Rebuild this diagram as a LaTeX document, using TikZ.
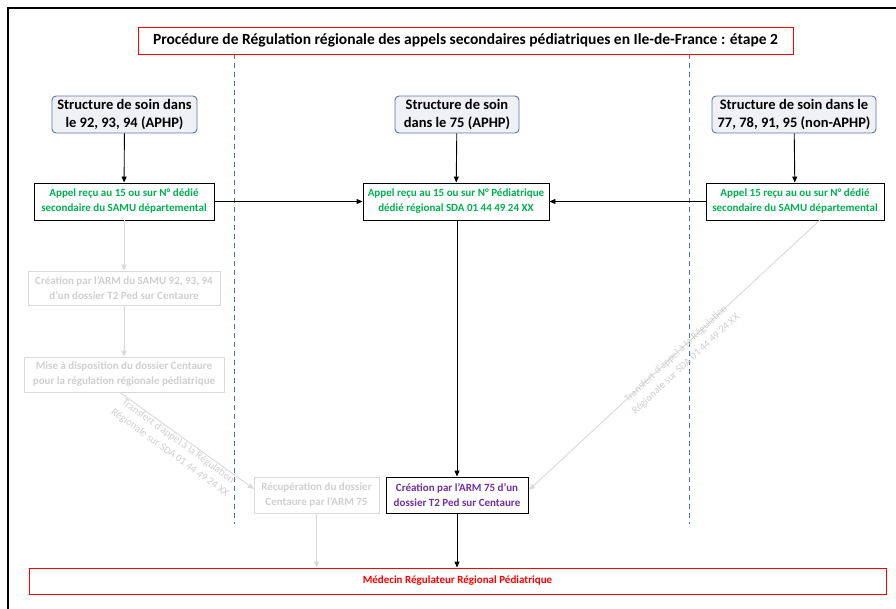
\documentclass[tikz,border=0pt]{standalone}
\usepackage{fontspec}
\setmainfont{Carlito}
\usetikzlibrary{arrows.meta,calc}
\definecolor{grn}{HTML}{00B050}
\definecolor{purp}{HTML}{7030A0}
\definecolor{blu}{HTML}{4472C4}
\definecolor{lg}{HTML}{D9D9D9}
\definecolor{lgt}{HTML}{D0D0D0}
\definecolor{sbd}{HTML}{5A74A8}
\definecolor{sfill}{HTML}{F0F1F4}
\tikzset{
  struct/.style={draw=sbd, line width=0.9pt, fill=sfill, rounded corners=4pt, minimum height=37pt, inner sep=1pt, align=center, font=\fontsize{14.5}{17.5}\selectfont\bfseries},
  greenbox/.style={draw=black, line width=0.9pt, fill=white, minimum height=37pt, inner sep=1pt, align=center, text=grn, font=\fontsize{11}{15}\selectfont\bfseries},
  graybox/.style={draw=lg, line width=0.9pt, fill=white, minimum height=35pt, inner sep=1pt, align=center, text=lgt, font=\fontsize{11}{15}\selectfont\bfseries},
  purpbox/.style={draw=black, line width=0.9pt, fill=white, minimum height=36pt, inner sep=1pt, align=center, text=purp, font=\fontsize{11}{15}\selectfont\bfseries},
  redbox/.style={draw=red, line width=0.9pt, fill=white, inner sep=1pt, align=center},
  arr/.style={-{Triangle[length=6pt,width=5pt]}, line width=0.9pt, black},
  garr/.style={-{Triangle[length=6pt,width=5pt]}, line width=0.9pt, lg},
  sep/.style={blu, line width=1pt, dash pattern=on 5pt off 4pt},
  trlabel/.style={text=lgt, align=center, font=\fontsize{10.5}{14}\selectfont, inner sep=0pt}
}
\begin{document}
\begin{tikzpicture}[x=1pt,y=-1pt]
\useasboundingbox (0,0) rectangle (896,609);
% outer frame
\coordinate (f1) at (8,609);
\coordinate (f2) at (8,8);
\coordinate (f3) at (896,8);
\draw[line width=1.6pt, black] (f1) -- (f2) -- (f3);
% separators
\coordinate (s1a) at (234,54); \coordinate (s1b) at (234,524);
\coordinate (s2a) at (689,54); \coordinate (s2b) at (689,524);
\draw[sep] (s1a) -- (s1b);
\draw[sep] (s2a) -- (s2b);
% title
\node[redbox, minimum width=655pt, minimum height=27pt, font=\fontsize{15.5}{17}\selectfont\bfseries] (title) at (465.5,40.5) {Procédure de Régulation régionale des appels secondaires pédiatriques en Ile-de-France : étape 2};
% structures
\node[struct, minimum width=145pt] (b1) at (124.5,114.5) {Structure de soin dans\\le 92, 93, 94 (APHP)};
\node[struct, minimum width=124pt] (b2) at (457,114.5) {Structure de soin\\dans le 75 (APHP)};
\node[struct, minimum width=164pt] (b3) at (794,114.5) {Structure de soin dans le\\77, 78, 91, 95 (non-APHP)};
% green
\node[greenbox, minimum width=180pt] (g1) at (124,201.5) {Appel reçu au 15 ou sur N° dédié\\secondaire du SAMU départemental};
\node[greenbox, minimum width=186pt] (g2) at (456,201.5) {Appel reçu au 15 ou sur N° Pédiatrique\\dédié régional SDA 01 44 49 24 XX};
\node[greenbox, minimum width=178pt] (g3) at (795,201.5) {Appel 15 reçu au ou sur N° dédié\\secondaire du SAMU départemental};
% gray
\node[graybox, minimum width=192pt, minimum height=34pt] (c1) at (124,288) {Création par l’ARM du SAMU 92, 93, 94\\d’un dossier T2 Ped sur Centaure};
\node[graybox, minimum width=200pt] (m1) at (124,374.5) {Mise à disposition du dossier Centaure\\pour la régulation régionale pédiatrique};
\node[graybox, minimum width=125pt, minimum height=36pt] (r1) at (316.5,495) {Récupération du dossier\\Centaure par l’ARM 75};
% purple
\node[purpbox, minimum width=142pt] (p1) at (457,495) {Création par l’ARM 75 d’un\\dossier T2 Ped sur Centaure};
% bottom
\node[redbox, minimum width=857pt, minimum height=26pt, text=red, font=\fontsize{11}{13}\selectfont\bfseries] (med) at (457.5,581) {Médecin Régulateur Régional Pédiatrique};
% black arrows
\draw[arr] (b1) -- (g1);
\draw[arr] (b2) -- (g2);
\draw[arr] (b3) -- (g3);
\draw[arr] (g1.east) -- (g2.west);
\draw[arr] (g3.west) -- (g2.east);
\draw[arr] (g2.south -| p1.north) -- (p1.north);
\draw[arr] (p1.south) -- (p1.south |- med.north);
% gray arrows
\draw[garr] (g1) -- (c1);
\draw[garr] (c1) -- (m1);
\coordinate (ms) at (120,392.5);
\coordinate (re) at (254,489);
\draw[garr] (ms) -- (re);
\draw[garr] (r1.south) -- (r1.south |- med.north);
\coordinate (g3s) at (820,220);
\coordinate (pe) at (529,490);
\draw[garr] (g3s) -- (pe);
% labels
\node[trlabel, rotate=-36] (lab1) at (174,447) {Transfert d’appel à la Régulation\\Régionale sur SDA 01 44 49 24 XX};
\node[trlabel, rotate=43] (lab2) at (681,359) {Transfert d’appel à la Régulation\\Régionale sur SDA 01 44 49 24 XX};
\end{tikzpicture}
\end{document}
